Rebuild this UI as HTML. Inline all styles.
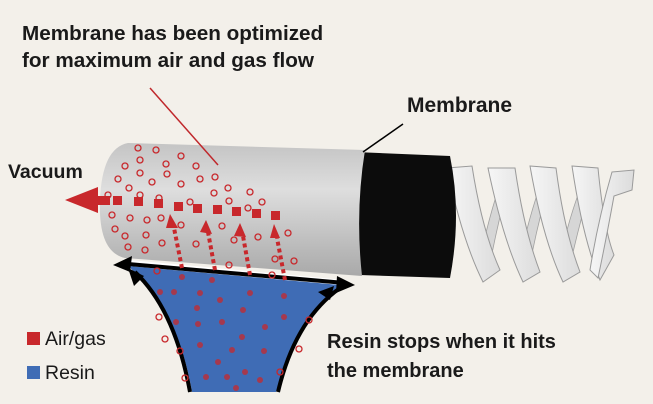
<!DOCTYPE html>
<html><head><meta charset="utf-8"><style>
body{margin:0;background:#f3f0ea;}
svg{display:block}
text{font-family:"Liberation Sans",sans-serif;}
</style></head><body>
<svg width="653" height="404" viewBox="0 0 653 404" xmlns="http://www.w3.org/2000/svg">
<defs>
<linearGradient id="cyl" x1="0" y1="0" x2="0" y2="1">
<stop offset="0" stop-color="#c4c4c4"/><stop offset="0.35" stop-color="#dedede"/><stop offset="1" stop-color="#a9a9a9"/></linearGradient>
<linearGradient id="sp" x1="0" y1="0" x2="1" y2="0">
<stop offset="0" stop-color="#f6f6f6"/><stop offset="1" stop-color="#dcdcdc"/></linearGradient>
</defs>
<rect width="653" height="404" fill="#f3f0ea"/>
<!-- spring back bands -->
<g fill="#d6d6d6" stroke="#a0a0a0" stroke-width="0.8">
<path d="M478,268 Q490,210 505,170 L512,170 Q498,220 488,274 Z"/>
<path d="M518,268 Q530,210 546,170 L553,170 Q538,220 528,274 Z"/>
<path d="M558,268 Q570,210 588,170 L595,170 Q580,220 568,274 Z"/>
</g>
<!-- spring front bands -->
<g fill="url(#sp)" stroke="#9a9a9a" stroke-width="1">
<path d="M447,168 L472,166 Q482,230 500,270 L483,282 Q462,240 447,168 Z"/>
<path d="M488,168 L515,168 Q524,230 540,272 L523,282 Q503,240 488,168 Z"/>
<path d="M530,166 L556,168 Q564,230 580,272 L563,282 Q543,240 530,166 Z"/>
<path d="M572,166 L598,168 Q604,230 614,255 L600,280 Q583,240 572,166 Z"/>
<path d="M612,172 L634,170 L632,190 L614,196 Q606,240 598,278 L590,270 Q598,220 612,172 Z"/>
</g>
<!-- black section -->
<path d="M355,152 L450,156 Q462,215 450,278 L360,275 Z" fill="#0c0c0c"/>
<!-- gray cylinder -->
<path d="M128,143 L365,150 Q355,212 362,276 L125,258 Q98,252 100,200 Q102,148 128,143 Z" fill="url(#cyl)"/>
<!-- white strip -->
<path d="M130,260 L345,280 L345,287 L125,268 Z" fill="#fff"/>
<!-- blue resin -->
<path d="M128,266 L340,285 Q300,320 276,392 L192,392 Q178,310 128,266 Z" fill="#3f6cb5"/>
<g stroke="#000" stroke-width="4" fill="none">
<path d="M190,392 Q175,310 135,272"/>
<path d="M278,392 Q295,320 340,288"/>
<path d="M128,264 L345,283"/>
</g>
<g fill="#000">
<path d="M113,265 L132,256 L130,272 Z"/>
<path d="M355,285 L337,276 L336,293 Z"/>
<path d="M128,268 L144,276 L134,286 Z"/>
<path d="M334,286 L330,300 L318,292 Z"/>
</g>
<!-- leader lines -->
<line x1="150" y1="88" x2="218" y2="165" stroke="#c0282c" stroke-width="1.5"/>
<line x1="403" y1="124" x2="363" y2="152" stroke="#000" stroke-width="1.5"/>
<!-- air squares and arrow -->
<g fill="#c8282c">
<path d="M65,200 L98,187 L98,213 Z"/>
<rect x="96" y="196" width="14" height="9"/>
<rect x="113" y="196" width="9" height="9"/><rect x="134" y="197" width="9" height="9"/>
<rect x="154" y="199" width="9" height="9"/><rect x="174" y="202" width="9" height="9"/>
<rect x="193" y="204" width="9" height="9"/><rect x="213" y="205" width="9" height="9"/>
<rect x="232" y="207" width="9" height="9"/><rect x="252" y="209" width="9" height="9"/>
<rect x="271" y="211" width="9" height="9"/>
<path d="M170,214 L178,228 L166,228 Z"/><path d="M206,220 L212,234 L200,232 Z"/>
<path d="M240,223 L246,237 L234,236 Z"/><path d="M274,224 L280,238 L270,238 Z"/>
</g>
<g stroke="#c8282c" stroke-width="4" stroke-dasharray="4,3" fill="none">
<path d="M182,268 L174,228"/><path d="M215,270 L208,232"/><path d="M250,275 L243,236"/><path d="M285,280 L277,238"/>
</g>
<!-- dots -->
<g fill="none" stroke="#c8282c" stroke-width="1.3">
<circle cx="138" cy="148" r="3"/><circle cx="156" cy="150" r="3"/><circle cx="140" cy="160" r="3"/><circle cx="125" cy="166" r="3"/><circle cx="166" cy="164" r="3"/><circle cx="181" cy="156" r="3"/><circle cx="196" cy="166" r="3"/><circle cx="140" cy="173" r="3"/><circle cx="118" cy="179" r="3"/><circle cx="152" cy="182" r="3"/><circle cx="167" cy="174" r="3"/><circle cx="200" cy="179" r="3"/><circle cx="215" cy="177" r="3"/><circle cx="129" cy="188" r="3"/><circle cx="181" cy="184" r="3"/><circle cx="214" cy="193" r="3"/><circle cx="228" cy="188" r="3"/><circle cx="250" cy="192" r="3"/><circle cx="108" cy="195" r="3"/><circle cx="140" cy="195" r="3"/><circle cx="159" cy="198" r="3"/><circle cx="229" cy="201" r="3"/><circle cx="262" cy="202" r="3"/><circle cx="190" cy="202" r="3"/><circle cx="248" cy="208" r="3"/><circle cx="112" cy="215" r="3"/><circle cx="130" cy="218" r="3"/><circle cx="147" cy="220" r="3"/><circle cx="161" cy="218" r="3"/><circle cx="181" cy="225" r="3"/><circle cx="222" cy="226" r="3"/><circle cx="115" cy="229" r="3"/><circle cx="146" cy="235" r="3"/><circle cx="125" cy="236" r="3"/><circle cx="162" cy="243" r="3"/><circle cx="196" cy="244" r="3"/><circle cx="234" cy="240" r="3"/><circle cx="258" cy="237" r="3"/><circle cx="288" cy="233" r="3"/><circle cx="128" cy="247" r="3"/><circle cx="145" cy="250" r="3"/><circle cx="229" cy="265" r="3"/><circle cx="275" cy="259" r="3"/><circle cx="294" cy="261" r="3"/><circle cx="157" cy="271" r="3"/><circle cx="272" cy="275" r="3"/><circle cx="159" cy="317" r="3"/><circle cx="165" cy="339" r="3"/><circle cx="180" cy="351" r="3"/><circle cx="185" cy="378" r="3"/><circle cx="299" cy="349" r="3"/><circle cx="309" cy="320" r="3"/><circle cx="280" cy="372" r="3"/>
</g>
<g fill="#c8282c" opacity="0.75">
<circle cx="182" cy="277" r="3"/><circle cx="212" cy="280" r="3"/><circle cx="250" cy="293" r="3"/><circle cx="160" cy="292" r="3"/><circle cx="174" cy="292" r="3"/><circle cx="200" cy="293" r="3"/><circle cx="220" cy="300" r="3"/><circle cx="284" cy="296" r="3"/><circle cx="197" cy="308" r="3"/><circle cx="243" cy="310" r="3"/><circle cx="284" cy="317" r="3"/><circle cx="176" cy="322" r="3"/><circle cx="198" cy="324" r="3"/><circle cx="222" cy="322" r="3"/><circle cx="265" cy="327" r="3"/><circle cx="242" cy="337" r="3"/><circle cx="200" cy="345" r="3"/><circle cx="232" cy="350" r="3"/><circle cx="264" cy="351" r="3"/><circle cx="218" cy="362" r="3"/><circle cx="206" cy="377" r="3"/><circle cx="227" cy="377" r="3"/><circle cx="245" cy="372" r="3"/><circle cx="260" cy="380" r="3"/><circle cx="236" cy="388" r="3"/>
</g>
<!-- text -->
<g font-weight="bold" fill="#1a1a1a">
<text x="22" y="40" font-size="20.7">Membrane has been optimized</text>
<text x="22" y="67" font-size="20.7">for maximum air and gas flow</text>
<text x="407" y="112" font-size="21">Membrane</text>
<text x="8" y="178" font-size="19.5">Vacuum</text>
<text x="327" y="348" font-size="20">Resin stops when it hits</text>
<text x="327" y="377" font-size="20">the membrane</text>
</g>
<rect x="27" y="332" width="13" height="13" fill="#c8282c"/>
<rect x="27" y="366" width="13" height="13" fill="#3f6cb5"/>
<text x="45" y="345" font-size="19.5" fill="#1a1a1a">Air/gas</text>
<text x="45" y="379" font-size="19.5" fill="#1a1a1a">Resin</text>
</svg>
</body></html>
